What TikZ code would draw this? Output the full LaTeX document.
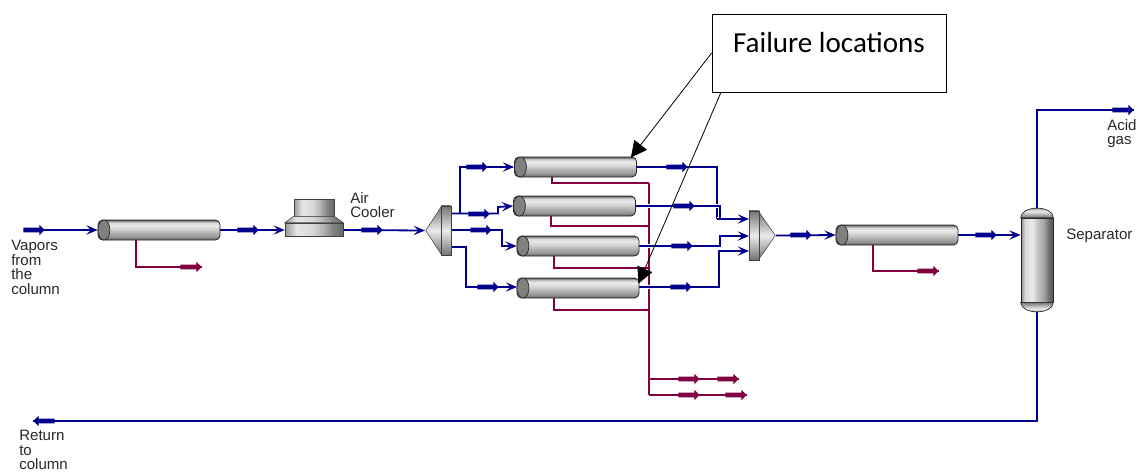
\documentclass[tikz,border=0pt]{standalone}
\usepackage{fontspec}
\setmainfont{Liberation Sans}
\newfontfamily\calloutfont{Carlito}
\usetikzlibrary{arrows.meta,shapes.geometric,shapes.arrows,backgrounds}

\definecolor{vapor}{RGB}{0,0,140}
\definecolor{liquid}{RGB}{128,0,64}
\definecolor{labelgray}{RGB}{40,40,40}

\pgfdeclareverticalshading{vesselh}{100bp}{
  color(0bp)=(black!70); color(25bp)=(black!62); color(33bp)=(black!42);
  color(43bp)=(black!30); color(52bp)=(black!18); color(62bp)=(black!8);
  color(69bp)=(black!18); color(75bp)=(black!65); color(100bp)=(black!65)}
\pgfdeclarehorizontalshading{vesselv}{100bp}{
  color(0bp)=(black!50); color(25bp)=(black!45); color(31bp)=(black!15);
  color(42bp)=(black!8); color(50bp)=(black!22); color(60bp)=(black!35);
  color(68bp)=(black!55); color(75bp)=(black!68); color(100bp)=(black!68)}
\pgfdeclarehorizontalshading{coolerv}{100bp}{
  color(0bp)=(black!45); color(25bp)=(black!40); color(35bp)=(black!10);
  color(48bp)=(black!15); color(58bp)=(black!30); color(66bp)=(black!48);
  color(75bp)=(black!60); color(100bp)=(black!60)}
\pgfdeclareverticalshading{coneh}{100bp}{
  color(0bp)=(black!60); color(25bp)=(black!55); color(50bp)=(black!8);
  color(75bp)=(black!55); color(100bp)=(black!60)}

\begin{document}
\begin{tikzpicture}[
  x=0.75pt, y=-0.75pt,
  hx/.style      = {draw=black!85, line width=0.6pt, rounded corners=3.5pt, inner sep=0pt,
                    minimum width=91.5pt, minimum height=15pt, shading=vesselh},
  hxhead/.style  = {ellipse, draw=black!85, line width=0.5pt, fill=black!50, inner sep=0pt,
                    minimum width=9pt, minimum height=15pt, anchor=west},
  barv/.style    = {draw=black!75, line width=0.5pt, inner sep=0pt, shading=coneh,
                    minimum width=7.5pt, minimum height=37pt},
  cone/.style    = {isosceles triangle, isosceles triangle stretches, draw=black!75,
                    line width=0.4pt, inner sep=0pt, shading=coneh, anchor=apex},
  coolr/.style   = {draw=black!75, line width=0.4pt, inner sep=0pt, shading=coolerv},
  sepr/.style    = {draw=black!85, line width=0.5pt, inner sep=0pt, shading=vesselv,
                    minimum width=24pt, minimum height=63pt},
  vap/.style     = {vapor, line width=1.35pt},
  vapin/.style   = {vap, -{Stealth[length=8.5pt,width=7pt,inset=3.5pt]}},
  vapout/.style  = {vap, preaction={draw=white, line width=3.6pt}},
  liq/.style     = {liquid, line width=1.35pt},
  hdr/.style     = {liquid, line width=2.2pt},
  flow/.style    = {single arrow, inner sep=0pt, text height=3pt, text depth=0pt, text width=0pt,
                    minimum height=16pt, single arrow head extend=2.2pt,
                    single arrow head indent=0pt, anchor=tip},
  flowv/.style   = {flow, fill=vapor},
  flowl/.style   = {flow, fill=liquid},
  lbl/.style     = {align=left, anchor=north west, inner sep=0pt, text=labelgray,
                    font=\fontsize{11.3}{10.9}\selectfont},
  callarr/.style = {-{Triangle[length=12pt,width=12pt]}, black, line width=0.6pt},
]
\useasboundingbox (0,0) rectangle (1144,472);

%% vessels
\node[hx] (hxfeed) at (159,230) {};
\node[hx] (hxA)    at (575.5,167) {};
\node[hx] (hxB)    at (574.5,206) {};
\node[hx] (hxC)    at (578,246) {};
\node[hx] (hxD)    at (578,288) {};
\node[hx] (hxout)  at (897,235) {};
\foreach \hxname in {hxfeed,hxA,hxB,hxC,hxD,hxout}
  \node[hxhead] (\hxname h) at (\hxname.west) {};

%% air cooler
\node[coolr, minimum width=30pt, minimum height=12.75pt] (clrt) at (314,207.5) {};
\node[coolr, minimum width=43.5pt, minimum height=9.75pt] (clrb) at (314,229.5) {};
\draw[black!75, line width=0.4pt, shading=coolerv]
  (clrt.south west) -- (clrb.north west) -- (clrb.north east) -- (clrt.south east) -- cycle;

%% splitter and mixer
\node[cone, shape border rotate=180, minimum height=12pt, minimum width=36.75pt] (splc) at (425,230.5) {};
\node[barv] (splb) at (446,230.5) {};
\node[cone, minimum height=12.75pt, minimum width=36.75pt] (mixc) at (776,235.5) {};
\node[barv] (mixb) at (754,235.5) {};

%% separator
\node[sepr] (sep) at (1037,260) {};
\draw[black!85, line width=0.5pt, shading=coneh]
  (sep.north west) .. controls (1021,205) and (1053,205) .. (sep.north east) -- cycle;
\draw[black!85, line width=0.5pt, shading=coneh]
  (sep.south west) .. controls (1021,315) and (1053,315) .. (sep.south east) -- cycle;

%% free ends and bends
\coordinate (feed)  at (24,230);
\coordinate (splo1) at (451,213.5);
\coordinate (splo2) at (451,230);
\coordinate (splo3) at (451,247);
\coordinate (bendA) at (460,167);
\coordinate (bendB) at (498,207);
\coordinate (bendC) at (502,246);
\coordinate (bendD) at (466,287);
\coordinate (inD)   at (517,287);
\coordinate (mixi1) at (749,219);
\coordinate (mixi2) at (749,236);
\coordinate (mixi3) at (749,251);
\coordinate (outD)  at (639,287);
\coordinate (septop) at (1037,208);
\coordinate (sepbot) at (1037,312);
\coordinate (acid)  at (1134,110);
\coordinate (ret)   at (33,421);
\coordinate (drfeed) at (136,240);
\coordinate (drout)  at (873,245);
\coordinate (prfeed) at (202,267);
\coordinate (prout)  at (939,271);
\coordinate (drA)   at (552,177);
\coordinate (drB)   at (551,216);
\coordinate (drC)   at (554,256);
\coordinate (drD)   at (554,298);
\coordinate (hdrA)  at (649,183);
\coordinate (hdrB)  at (649,226);
\coordinate (hdrC)  at (649,268);
\coordinate (hdrD)  at (649,310);
\coordinate (hdrE)  at (649,379);
\coordinate (hdrF)  at (649,395);
\coordinate (prE)   at (739,379);
\coordinate (prF)   at (747,395);
\coordinate (joinA) at (717,219);
\coordinate (joinC) at (720,240);
\coordinate (joinD) at (719,255);

%% connectors, behind the vessels
\begin{scope}[on background layer]
\draw[liq] (drfeed) |- (prfeed);
\draw[liq] (drout)  |- (prout);
\draw[liq] (drA) |- (hdrA);
\draw[liq] (drB) |- (hdrB);
\draw[liq] (drC) |- (hdrC);
\draw[liq] (drD) |- (hdrD);
\draw[liq] (hdrA) -- (hdrB);
\draw[hdr] (hdrB) -- (hdrF);
\draw[liq] (hdrE) -- (prE);
\draw[hdr] (hdrF) -- (prF);

\draw[vapin] (feed) -- (hxfeed.west);
\draw[vapin] (hxfeed.east) -- (clrb.west |- hxfeed.east);
\draw[vapin] (clrb.east |- hxfeed.east) -- (splc.apex);
\draw[vapin] (splo1) -- (bendA |- splo1) -- (bendA) -- (hxA.west);
\draw[vapin] (splo1) -- (bendB |- splo1) -- (bendB) -- (hxB.west);
\draw[vapin] (splo2) -- (bendC |- splo2) -- (bendC) -- (hxC.west);
\draw[vapin] (splo3) -- (bendD |- splo3) -- (bendD) -- (inD);

\draw[vapout] (hxA.east) -| (joinA);
\draw[vapout] (hxB.east) -| (joinA -| joinC) -- (joinA);
\draw[vapin]  (joinA) -- (mixi1);
\draw[vapout] (hxC.east) -| (joinC);
\draw[vapin]  (joinC) |- (mixi2);
\draw[vapout] (outD) -| (joinD);
\draw[vapin]  (joinD) |- (mixi3);

\draw[vapin] (mixc.apex) -- (hxout.west);
\draw[vapin] (hxout.east) -- (sep.west |- hxout.east);
\draw[vap] (septop) |- (acid);
\draw[vap] (sepbot) |- (ret);
\end{scope}

%% flow markers
\foreach \fn/\fx/\fy in {a/45/230, b/259/230, c/383/230, d/488/167, e/490/214, f/492/230,
    g/499/287, h/688/167, i/695/206, j/693/246, k/692/287, m/812/235, n/997/235, o/1134/110}
  \node[flowv] (fv\fn) at (\fx,\fy) {};
\node[flowv, shape border rotate=180] (fvret) at (ret) {};
\foreach \fn/\fx/\fy in {a/202/267, b/939/271, c/700/379, d/739/379, e/700/395, f/747/395}
  \node[flowl] (fl\fn) at (\fx,\fy) {};

%% labels
\node[lbl] (lvap) at (11,240)   {Vapors\\from\\the\\column};
\node[lbl] (lair) at (350,192)  {Air\\Cooler};
\node[lbl] (lsep) at (1066,229) {Separator};
\node[lbl] (lacd) at (1107,119) {Acid\\gas};
\node[lbl] (lret) at (19,430)   {Return\\to\\column};

%% callout
\node[draw=black, line width=0.6pt, fill=white, minimum width=175.5pt, minimum height=58.5pt,
      inner sep=0pt] (call) at (829,53) {};
\node[font=\calloutfont\fontsize{21.8}{24}\selectfont, inner sep=0pt] (calltxt) at (829,43) {Failure locations};
\draw[callarr] (call.west) -- ([xshift=-4.5pt,yshift=-0.7pt]hxA.north east);
\draw[callarr] ([xshift=7pt]call.south west) -- ([xshift=-0.7pt,yshift=-4.5pt]hxD.north east);
\end{tikzpicture}
\end{document}
